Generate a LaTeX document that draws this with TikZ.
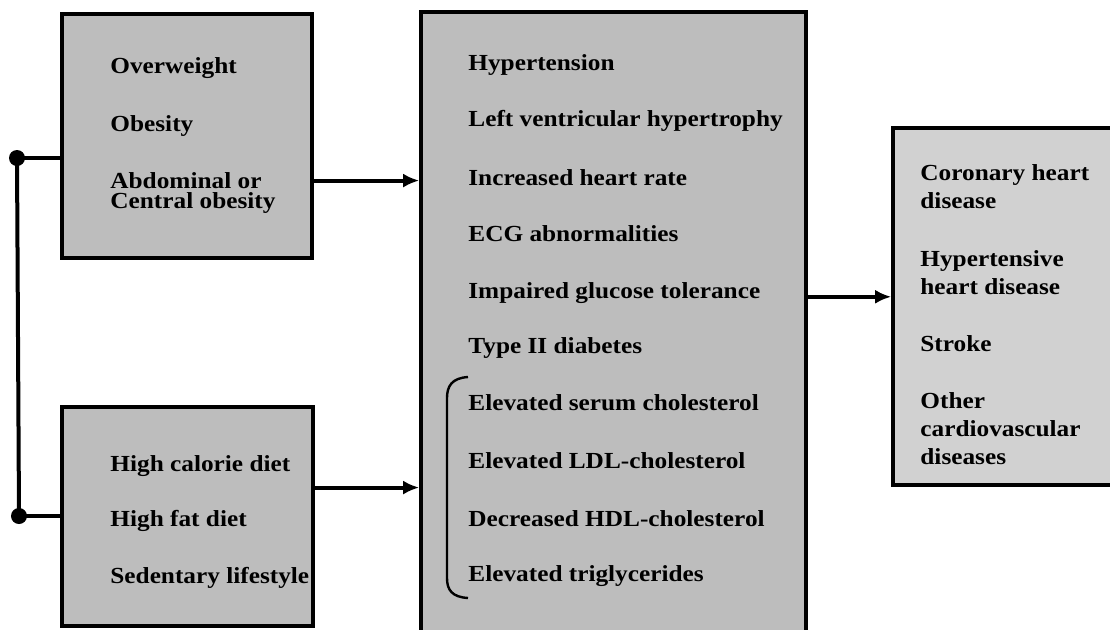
\documentclass[tikz,border=0pt]{standalone}
\usepackage{fontspec}
\setmainfont{Liberation Serif}[FakeStretch=1.1]
\usetikzlibrary{arrows.meta,calc}
\definecolor{boxgray}{gray}{0.74}
\definecolor{boxlight}{gray}{0.82}
\begin{document}
\begin{tikzpicture}[x=0.5pt,y=-0.5pt]

    \tikzset{
      panel/.style={
        draw,
        line width=1.8pt,
        fill=boxgray,
        inner sep=0pt,
      },
      item/.style={
        anchor=base west,
        align=left,
        inner sep=0pt,
        font=\fontsize{11.5}{14}\selectfont\bfseries,
      },
      link/.style={line width=2pt,-{Latex[length=8pt,width=7pt]}},
      joint/.style={circle,fill,inner sep=0pt,minimum size=8pt},
    }
    \useasboundingbox (0,0) rectangle (1110,629);

	% boxes
	\node[panel,minimum width=125pt,minimum height=122pt] (body) at (187,136) {};
	\node[panel,minimum width=125.5pt,minimum height=109.5pt] (habit) at (187.5,516.5) {};
	\node[panel,minimum width=192.5pt,minimum height=311pt] (risk) at (613.5,323) {};
	\node[panel,fill=boxlight,minimum width=110.5pt,minimum height=178.5pt] (outcome) at (1003.5,306.5) {};

	% texts (base = last line)
	\node[item] (t1) at (110,73) {Overweight};
	\node[item] (t2) at (110,131) {Obesity};
	\node[item] (t3) at (110,208) {Abdominal or\\[-4pt]Central obesity};
	\node[item] (t4) at (110,471) {High calorie diet};
	\node[item] (t5) at (110,526) {High fat diet};
	\node[item] (t6) at (110,583) {Sedentary lifestyle};

	\node[item] (r1) at (468,70) {Hypertension};
	\node[item] (r2) at (468,126) {Left ventricular hypertrophy};
	\node[item] (r3) at (468,185) {Increased heart rate};
	\node[item] (r4) at (468,241) {ECG abnormalities};
	\node[item] (r5) at (468,298) {Impaired glucose tolerance};
	\node[item] (r6) at (468,353) {Type II diabetes};
	\node[item] (r7) at (468,410) {Elevated serum cholesterol};
	\node[item] (r8) at (468,468) {Elevated LDL-cholesterol};
	\node[item] (r9) at (468,526) {Decreased HDL-cholesterol};
	\node[item] (r10) at (468,581) {Elevated triglycerides};

	\node[item] (o1) at (920,208) {Coronary heart\\disease};
	\node[item] (o2) at (920,294) {Hypertensive\\heart disease};
	\node[item] (o3) at (920,351) {Stroke};
	\node[item] (o4) at (920,464) {Other\\cardiovascular\\diseases};

	% bracket round the lipids
	\draw[line width=1.2pt] (468,377) .. controls (452,378) and (447,386) .. (447,398) -- (447,578) .. controls (447,590) and (452,597) .. (468,598);

	% connectors
	\node[joint] (topdot) at (17,158) {};
	\node[joint] (botdot) at (19,516) {};
	\draw[line width=2pt] (topdot.center) -- (botdot.center);
	\draw[line width=2pt] (topdot.center) -- (topdot -| body.west);
	\draw[line width=2pt] (botdot.center) -- (botdot -| habit.west);

	\coordinate (bodyOut) at ($(body.north east)!0.68!(body.south east)$);
	\coordinate (habitOut) at ($(habit.north east)!0.37!(habit.south east)$);
	\coordinate (riskOut) at ($(outcome.north west)!0.473!(outcome.south west)$);
	\draw[link] (bodyOut) -- (bodyOut -| risk.west);
	\draw[link] (habitOut) -- (habitOut -| risk.west);
	\draw[link] (riskOut -| risk.east) -- (riskOut);

\end{tikzpicture}
\end{document}
